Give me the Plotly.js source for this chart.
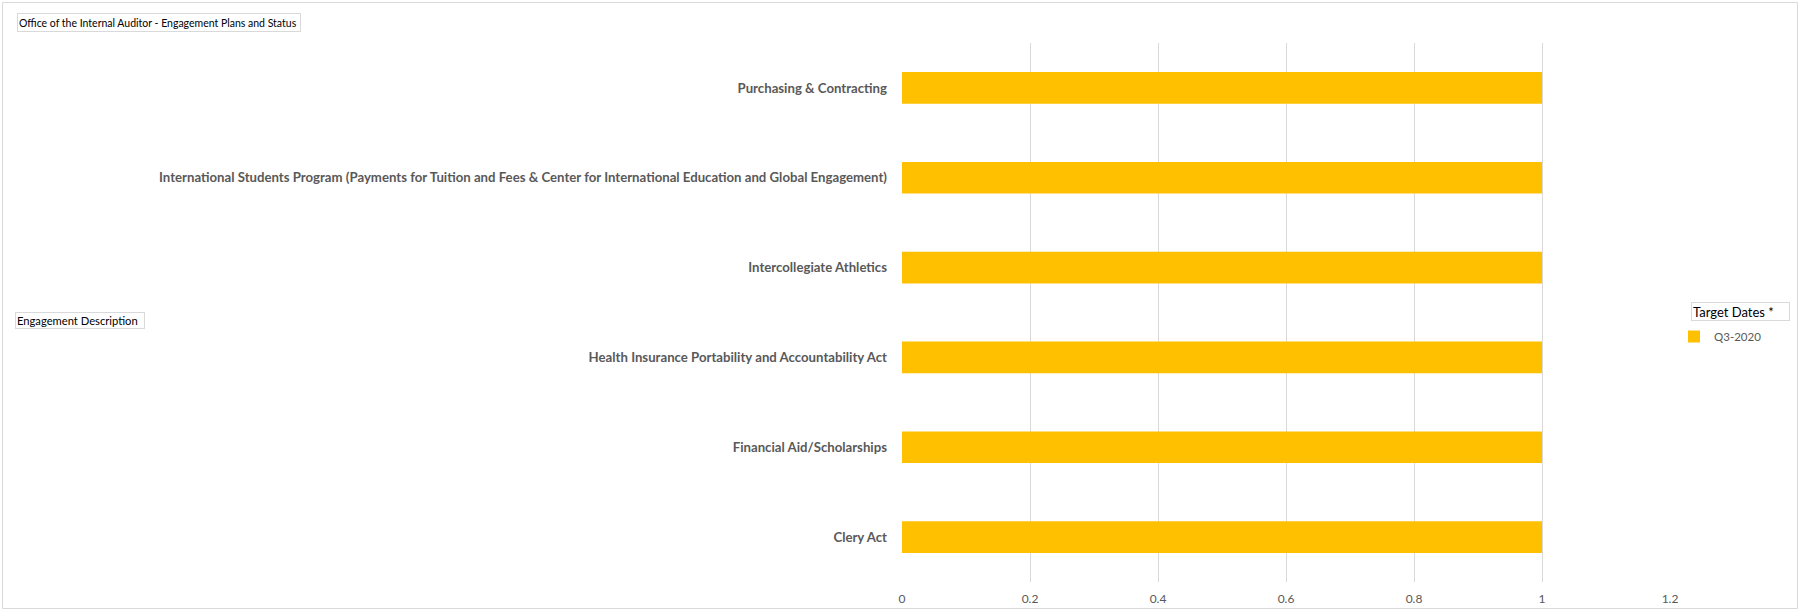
<!DOCTYPE html>
<html>
<head>
<meta charset="utf-8">
<script src="https://cdn.plot.ly/plotly-3.0.1.min.js"></script>
<style>html,body{margin:0;padding:0;background:#fff;}#chart{width:1800px;height:611px;}</style>
</head>
<body>
<div id="chart"></div>
<script>
// ---- data ----
const categories = [
  "Purchasing & Contracting",
  "International Students Program (Payments for Tuition and Fees & Center for International Education and Global Engagement)",
  "Intercollegiate Athletics",
  "Health Insurance Portability and Accountability Act",
  "Financial Aid/Scholarships",
  "Clery Act"
];
const values = [1, 1, 1, 1, 1, 1];
const seriesName = "Q3-2020";
const xTickVals = [0, 0.2, 0.4, 0.6, 0.8, 1, 1.2];
const xTickText = ["0", "0.2", "0.4", "0.6", "0.8", "1", "1.2"];
const chartTitle = "Office of the Internal Auditor - Engagement Plans and Status";
const yTitle = "Engagement Description";
const legendTitle = "Target Dates *";

// ---- layout helpers (pixel -> paper) ----
const L = 902, R = 1670, T = 43, B = 582;
const px = v => (v - L) / (R - L);
const py = v => (B - v) / (B - T);
const FONT = "Lato, 'Open Sans', sans-serif";

const trace = {
  type: 'bar',
  orientation: 'h',
  y: categories,
  x: values,
  name: seriesName,
  marker: {color: '#FFC000'},
  hoverinfo: 'y+x'
};

const layout = {
  width: 1800, height: 611,
  margin: {l: L, r: 1800 - R, t: T, b: 611 - B, pad: 0},
  paper_bgcolor: '#ffffff', plot_bgcolor: '#ffffff',
  bargap: 0.647,
  showlegend: true,
  legend: {
    x: px(1674), y: py(322), xanchor: 'left', yanchor: 'top',
    font: {family: FONT, size: 11.5, color: '#595959'},
    bgcolor: 'rgba(0,0,0,0)', borderwidth: 0,
    itemwidth: 30
  },
  xaxis: {
    range: [0, 1.2],
    tickvals: xTickVals, ticktext: xTickText,
    showgrid: true, gridcolor: '#d9d9d9', gridwidth: 1,
    zeroline: false, showline: false, ticks: '',
    tickfont: {family: FONT, size: 12, color: '#595959'},
    ticklabelstandoff: 8,
    fixedrange: true
  },
  yaxis: {
    autorange: 'reversed',
    type: 'category',
    showgrid: false, zeroline: false, showline: false, ticks: '',
    ticklabelstandoff: 14,
    tickfont: {family: FONT, size: 13.2, color: '#595959', weight: 'bold'},
    fixedrange: true
  },
  shapes: [{
    type: 'rect', xref: 'paper', yref: 'paper',
    x0: px(2.5), x1: px(1797.5), y0: py(608.5), y1: py(2.5),
    line: {color: '#d9d9d9', width: 1}, fillcolor: 'rgba(0,0,0,0)', layer: 'below'
  }],
  annotations: [
    {
      text: chartTitle, xref: 'paper', yref: 'paper',
      x: px(17), y: py(22.5), xanchor: 'left', yanchor: 'middle',
      showarrow: false, align: 'left', width: 280, height: 15,
      bordercolor: '#d9d9d9', borderwidth: 1, borderpad: 1,
      font: {family: FONT, size: 10.5, color: '#000000'}
    },
    {
      text: yTitle, xref: 'paper', yref: 'paper',
      x: px(15), y: py(320), xanchor: 'left', yanchor: 'middle',
      showarrow: false, align: 'left', width: 126, height: 13,
      bordercolor: '#d9d9d9', borderwidth: 1, borderpad: 1,
      font: {family: FONT, size: 11.2, color: '#000000'}
    },
    {
      text: legendTitle, xref: 'paper', yref: 'paper',
      x: px(1691), y: py(311), xanchor: 'left', yanchor: 'middle',
      showarrow: false, align: 'left', width: 95, height: 15,
      bordercolor: '#d9d9d9', borderwidth: 1, borderpad: 1,
      font: {family: FONT, size: 13, color: '#000000'}
    }
  ]
};

Plotly.newPlot('chart', [trace], layout, {displayModeBar: false, staticPlot: false});
</script>
</body>
</html>
